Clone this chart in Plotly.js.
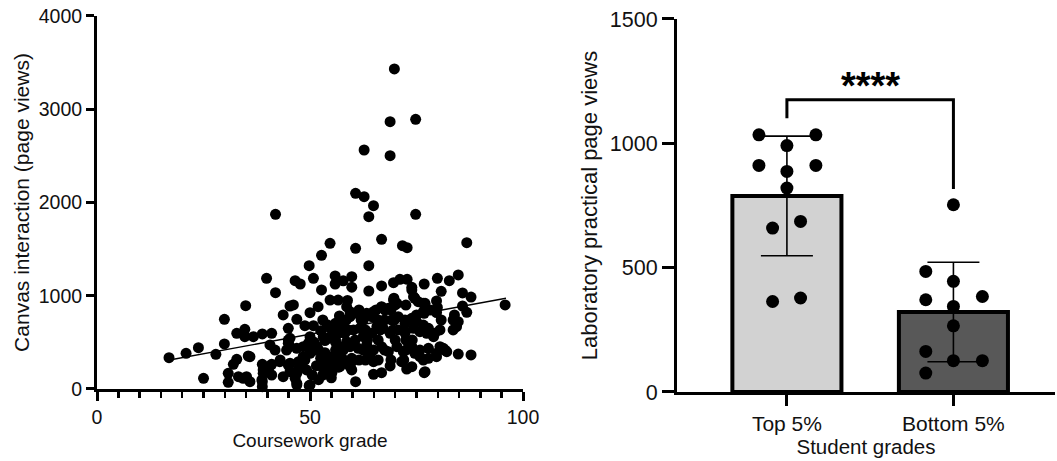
<!DOCTYPE html>
<html>
<head>
<meta charset="utf-8">
<script src="https://cdn.plot.ly/plotly-3.0.1.min.js"></script>
<style>html,body{margin:0;padding:0;background:#fff;}#chart{width:1057px;height:461px;}</style>
</head>
<body>
<div id="chart"></div>
<script>
// ---- Left panel: coursework grade vs Canvas page views ----
var gradeX = [
69.8,68.8,74.8,62.7,68.8,60.7,62.7,64.9,63.8,41.9,74.8,66.8,54.7,60.7,71.7,72.8,86.8,52.7,49.8,63.8,
39.8,50.8,55.9,59.8,46.5,47.7,55.9,57.8,59.8,66.8,69.6,71.1,72.8,73.9,76.8,79.9,82.7,84.8,
41.9,52.7,63.8,80.8,85.8,87.8,34.9,29.9,54.7,56.6,58.8,58.6,45.3,46.1,43.7,51.9,50,46.9,48.8,50.8,44.9,
56.9,59.4,61,63.3,64.9,66.8,68.4,69.7,70.4,73.9,74.6,76.6,76.8,79.7,79.9,79.7,83.9,84.4,85.8,86.8,
80.8,69.8,72.3,73.5,75,76.6,77.4,83.6,84.8,83.6,79.3,
62.5,64.5,66.8,67.6,69.6,70,69.2,70.7,72.3,73.9,75,76.6,74.3,75.4,77,78.2,57.8,59.4,
32.8,34.7,36.7,38.8,41,29.9,23.8,20.9,16.9,27.9,35.9,32.8,32,25,30.8,30.8,33.2,34.3,35.9,38.8,39,38.8,38.8,
40.6,41.8,41,42.9,41,43.7,45.3,45.3,46.9,46.9,44.9,45.3,49.8,60.7,52.9,54.7,56.6,59.8,59.8,64.9,66.8,68.8,
72.7,73.9,76.8,79.7,80.5,81.7,84.8,87.8,76.6,74.6,75.8,95.8,34.7,35.5,35.1,
57.4,45.3,44.9,44.5,46.9,48.4,50,49.6,50.4,51.6,53.1,54.3,55.5,56.6,43,40.6,39,44.9,47.3,48.8,47.3,49.2,
46.5,46.9,50,52.7,53.1,53.9,55.1,55.9,55.1,57,57,38.7,50,48.4,
57,58.2,60.2,61.7,58.6,60.6,62.5,64.5,65.7,67.2,68.8,70.7,72.3,74.3,75.8,77.8,79,80.5,
57.8,59.4,61.3,63.3,64.9,66.8,68.4,70.4,71.9,73.9,77.8,79.7,59.8,59.4,64.1,64.9,77,75.8,77.8,57,71.5,
53,54,52.5,55,56,57.5,53.5,56,81.3,82.1,
58.5,62,66,67.5,55.5,59,63,66.5,69.5,72,56,63.5,66,70,72.5,74,56,62.5,67.5,72.5,
56.5,58,61.5,63,66,69,72,61.5,65.5,69,72.5,
51,52,53.5,52.5,54,51.5,53,55,52,48,50.5
];
var pageViews = [
3432,2867,2892,2563,2502,2099,2062,1966,1848,1873,1873,1605,1562,1509,1537,1515,1569,1434,1322,1322,
1187,1187,1212,1204,1161,1126,1126,1160,1092,1105,1140,1176,1176,1090,1126,1187,1161,1223,
1033,1062,1051,1047,1030,986,893,747,954,954,950,883,890,901,794,883,818,747,679,679,651,
783,829,812,812,829,876,865,973,919,1062,973,919,812,945,874,820,794,668,890,822,
740,740,704,740,722,686,597,740,722,633,597,
740,775,883,847,954,901,740,775,740,758,794,829,990,936,919,847,704,775,
597,640,561,590,597,483,443,383,336,372,347,318,265,115,168,72,132,115,78,265,204,78,25,
472,418,265,293,150,132,276,186,168,61,525,454,35,78,240,186,233,293,204,158,175,247,
214,239,175,347,454,418,375,365,311,383,418,901,561,354,132,
686,544,490,418,436,454,561,490,400,454,561,544,579,597,311,247,168,257,293,311,222,204,
115,43,43,293,222,347,347,257,168,454,365,97,383,347,
668,597,633,651,507,525,561,597,668,651,597,633,597,651,615,651,561,633,
418,454,436,472,418,454,400,454,400,454,436,383,329,240,365,293,186,347,329,240,293,
740,690,625,640,705,640,520,500,436,400,
740,740,740,740,633,633,633,633,633,633,525,525,525,525,525,525,418,418,418,418,
311,311,311,311,311,311,311,847,847,847,900,
500,420,390,330,270,250,150,120,100,250,150
];
// Linear fit line (as drawn in the original)
var fitX = [17, 96];
var fitY = [311, 973];

// ---- Right panel: laboratory practical page views ----
var groupNames = ["Top 5%", "Bottom 5%"];
var top5 = [1034,1034,991,911,911,887,820,659,686,364,378];
var bottom5 = [753,485,445,371,384,344,266,163,126,126,76];
var top5Jitter = [-0.168,0.174,0,-0.168,0.174,0,0,-0.086,0.082,-0.086,0.082];
var bottom5Jitter = [0,-0.166,0,-0.166,0.174,0,0,-0.166,0,0.174,-0.166];
var sigLabel = "****";

function mean(a){var s=0;for(var i=0;i<a.length;i++)s+=a[i];return s/a.length;}
function sd(a){var m=mean(a),s=0;for(var i=0;i<a.length;i++)s+=(a[i]-m)*(a[i]-m);return Math.sqrt(s/(a.length-1));}

var means = [mean(top5), mean(bottom5)];
var sds = [sd(top5), sd(bottom5)];
var topX = top5Jitter.map(function(d){return 0+d;});
var botX = bottom5Jitter.map(function(d){return 1+d;});

var FONT = "Liberation Sans, Arial, Helvetica, sans-serif";
var INK = "#111";

var traces = [
  {type:"scatter", mode:"markers", x:gradeX, y:pageViews, xaxis:"x", yaxis:"y",
   marker:{color:"#000", size:11}, cliponaxis:false, hoverinfo:"x+y"},
  {type:"scatter", mode:"lines", x:fitX, y:fitY, xaxis:"x", yaxis:"y",
   line:{color:"#000", width:1.3}, cliponaxis:false},
  {type:"bar", x:[0,1], y:means, xaxis:"x2", yaxis:"y2", width:0.655,
   marker:{color:["#d2d2d2","#585858"], line:{color:"#000", width:4}},
   error_y:{type:"data", array:sds, visible:true, color:"#000", thickness:1.6, width:26}},
  {type:"scatter", mode:"markers", x:topX, y:top5, xaxis:"x2", yaxis:"y2",
   marker:{color:"#000", size:13}, cliponaxis:false},
  {type:"scatter", mode:"markers", x:botX, y:bottom5, xaxis:"x2", yaxis:"y2",
   marker:{color:"#000", size:13}, cliponaxis:false}
];

var baseAxis = {showgrid:false, zeroline:false, showline:true, linecolor:"#000", linewidth:3,
  ticks:"outside", tickcolor:"#000", tickwidth:3, fixedrange:true};

function ax(o){var r={};for(var k in baseAxis)r[k]=baseAxis[k];for(var k2 in o)r[k2]=o[k2];return r;}

var layout = {
  width:1057, height:461, margin:{l:0,r:0,t:0,b:0},
  paper_bgcolor:"#fff", plot_bgcolor:"rgba(0,0,0,0)",
  showlegend:false, font:{family:FONT, color:INK},
  xaxis: ax({domain:[0.0918,0.4948], range:[0,100], dtick:50, tick0:0, ticklen:9,
    tickfont:{size:19.5}, anchor:"y",
    minor:{dtick:5, ticks:"outside", ticklen:6, tickwidth:2.5, tickcolor:"#000"},
    title:{text:"Coursework grade", font:{size:19}, standoff:7}}),
  yaxis: ax({domain:[0.1562,0.9653], range:[0,4000], dtick:1000, ticklen:8,
    tickfont:{size:19.5}, anchor:"x",
    title:{text:"Canvas interaction (page views)", font:{size:21}, standoff:4}}),
  xaxis2: ax({domain:[0.6405,0.9981], range:[-0.66,1.61], tickvals:[0,1], ticktext:groupNames,
    ticklen:11, tickfont:{size:21}, anchor:"y2",
    title:{text:"Student grades", font:{size:20.5}, standoff:3}}),
  yaxis2: ax({domain:[0.1497,0.9588], range:[0,1500], dtick:500, ticklen:12,
    tickfont:{size:21.5}, anchor:"x2",
    title:{text:"Laboratory practical page views", font:{size:22}, standoff:7}}),
  shapes:[
    {type:"path", xref:"x2", yref:"y2", path:"M 0,1101 L 0,1175 L 1,1175 L 1,816",
     line:{color:"#000", width:3}}
  ],
  annotations:[
    {xref:"x2", yref:"y2", x:0.5, y:1232, text:"<b>"+sigLabel+"</b>", showarrow:false,
     font:{size:38, color:"#000", family:FONT}}
  ]
};

Plotly.newPlot("chart", traces, layout, {displayModeBar:false, staticPlot:true});
</script>
</body>
</html>
